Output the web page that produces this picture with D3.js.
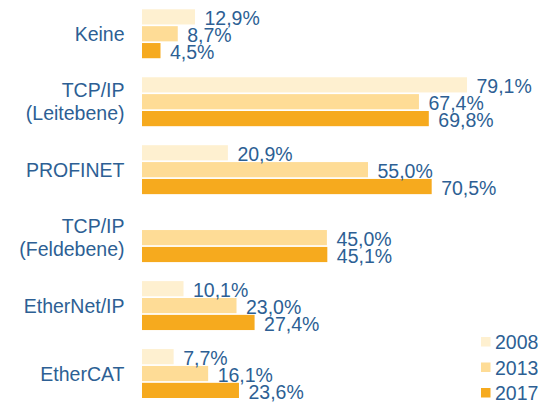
<!DOCTYPE html>
<html><head><meta charset="utf-8">
<script src="https://cdn.jsdelivr.net/npm/d3@7"></script>
<style>html,body{margin:0;padding:0;background:#fff;}svg{display:block;}</style>
</head><body>
<svg id="chart" width="538" height="402"></svg>
<script>
const categories = [["Keine"], ["TCP/IP", "(Leitebene)"], ["PROFINET"], ["TCP/IP", "(Feldebene)"], ["EtherNet/IP"], ["EtherCAT"]];
const seriesNames = ["2008", "2013", "2017"];
const values2008 = [12.9, 79.1, 20.9, null, 10.1, 7.7];
const values2013 = [8.7, 67.4, 55.0, 45.0, 23.0, 16.1];
const values2017 = [4.5, 69.8, 70.5, 45.1, 27.4, 23.6];
const seriesColors = ["#fef0d0", "#fedc96", "#f6aa1e"];
const textColor = "#2d5f94";

const series = [values2008, values2013, values2017];
const svg = d3.select("#chart");
const font = "'Liberation Sans', Arial, sans-serif";
const fs = 19.5;

const catIdx = categories.map((c, i) => i);
const y0 = d3.scaleBand().domain(catIdx).range([9.3, 398]).paddingInner(0.28).paddingOuter(0);
const y1 = d3.scaleBand().domain(seriesNames).range([0, y0.bandwidth()]).paddingInner(0.1);
const x = d3.scaleLinear().domain([0, 100]).range([142, 552.9]);
const fmt = v => d3.format(".1f")(v).replace(".", ",") + "%";

seriesNames.forEach((s, si) => {
  const pts = catIdx.filter(i => series[si][i] != null);
  svg.selectAll(`rect.s${si}`).data(pts).join("rect")
    .attr("class", `s${si}`)
    .attr("x", x(0))
    .attr("y", i => y0(i) + y1(s))
    .attr("width", i => x(series[si][i]) - x(0))
    .attr("height", y1.bandwidth())
    .attr("fill", seriesColors[si]);
});
seriesNames.forEach((s, si) => {
  const pts = catIdx.filter(i => series[si][i] != null);
  svg.selectAll(`text.v${si}`).data(pts).join("text")
    .attr("class", `v${si}`)
    .attr("x", i => x(series[si][i]) + 9.5)
    .attr("y", i => y0(i) + y1(s) + y1.bandwidth() + 0.5)
    .attr("font-family", font).attr("font-size", fs)
    .attr("fill", textColor)
    .text(i => fmt(series[si][i]));
});

// category labels
catIdx.forEach(i => {
  const lines = categories[i];
  const cy = y0(i) + y0.bandwidth() / 2;
  const lh = 23;
  const t = svg.append("text")
    .attr("text-anchor", "end")
    .attr("font-family", font).attr("font-size", fs)
    .attr("fill", textColor);
  lines.forEach((l, k) => {
    t.append("tspan").attr("x", 124.5)
      .attr("y", cy + (k - (lines.length - 1) / 2) * lh + 7)
      .text(l);
  });
});

// legend
const legend = svg.append("g");
seriesNames.forEach((s, si) => {
  const ly = 342 + si * 25.5;
  legend.append("rect").attr("x", 481).attr("y", ly - 5).attr("width", 9.5).attr("height", 9.5)
    .attr("fill", seriesColors[si]);
  legend.append("text").attr("x", 495).attr("y", ly + 7)
    .attr("font-family", font).attr("font-size", fs).attr("fill", textColor).text(s);
});
</script>
</body></html>
